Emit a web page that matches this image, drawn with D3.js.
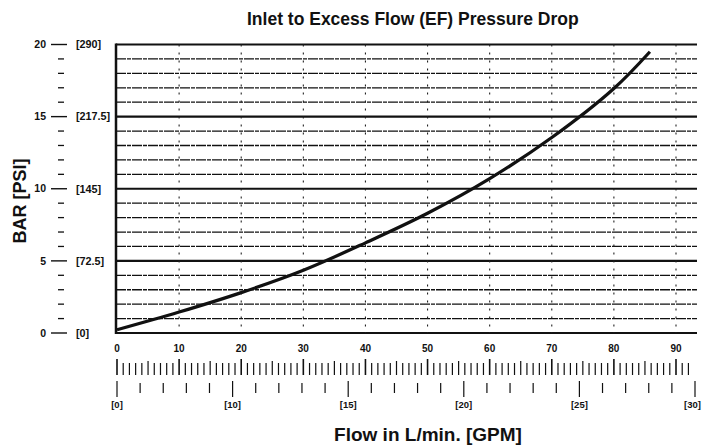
<!DOCTYPE html>
<html><head><meta charset="utf-8">
<script src="https://cdn.jsdelivr.net/npm/d3@7"></script>
<style>body{margin:0;background:#fff}svg{display:block}text{font-family:"Liberation Sans",Arial,sans-serif;font-weight:bold;fill:#111}</style>
</head><body><svg id="c" width="702" height="446"></svg>
<script>
// Data
const flowLmin = [0, 10, 20, 30, 40, 50, 60, 70, 80, 85.8];
const pressureBar = [0.22, 1.45, 2.8, 4.35, 6.25, 8.3, 10.7, 13.55, 16.95, 19.5];
const barMajorTicks = [0, 5, 10, 15, 20];
const psiLabels = ["[0]", "[72.5]", "[145]", "[217.5]", "[290]"];
const lminTicks = [0, 10, 20, 30, 40, 50, 60, 70, 80, 90];
const gpmLabels = ["[0]", "[10]", "[15]", "[20]", "[25]", "[30]"];

const svg = d3.select("#c");
const pLeft = 116, pRight = 697, pTop = 44.5, pBottom = 333;
const x = d3.scaleLinear().domain([0, 90]).range([117, 676]);
const y = d3.scaleLinear().domain([0, 20]).range([pBottom, pTop]);

// horizontal grid lines every 1 bar
const barAll = d3.range(0, 21);
svg.append("g").selectAll("line").data(barAll).join("line")
  .attr("x1", pLeft).attr("x2", pRight)
  .attr("y1", d => y(d)).attr("y2", d => y(d))
  .attr("stroke", "#111")
  .attr("stroke-width", d => d % 5 === 0 ? 2.2 : 1.3)
  .attr("stroke-dasharray", d => d % 5 === 0 ? null : "10,1,4,1");

// vertical dotted grid lines every 10 L/min
svg.append("g").selectAll("line").data(lminTicks.filter(d => d > 0)).join("line")
  .attr("x1", d => x(d)).attr("x2", d => x(d))
  .attr("y1", pTop).attr("y2", pBottom)
  .attr("stroke", "#222").attr("stroke-width", 1.1)
  .attr("stroke-dasharray", "2,6");

// left axis line
svg.append("line").attr("x1", pLeft).attr("x2", pLeft).attr("y1", pTop - 1).attr("y2", pBottom + 1)
  .attr("stroke", "#111").attr("stroke-width", 2.5);

// curve
const line = d3.line().x((d, i) => x(flowLmin[i])).y(d => y(d)).curve(d3.curveCatmullRom.alpha(0.5));
svg.append("path").datum(pressureBar).attr("d", line)
  .attr("fill", "none").attr("stroke", "#111").attr("stroke-width", 3.2);

// Left scale: bar labels, dashes, psi labels
const gy = svg.append("g");
gy.selectAll("line.minor").data(barAll.filter(d => d % 5 !== 0)).join("line")
  .attr("class", "minor")
  .attr("x1", 58).attr("x2", 64).attr("y1", d => y(d)).attr("y2", d => y(d))
  .attr("stroke", "#111").attr("stroke-width", 1.3);
gy.selectAll("line.major").data(barMajorTicks).join("line")
  .attr("class", "major")
  .attr("x1", 51).attr("x2", 67).attr("y1", d => y(d)).attr("y2", d => y(d))
  .attr("stroke", "#111").attr("stroke-width", 1.4);
gy.selectAll("text.bar").data(barMajorTicks).join("text")
  .attr("class", "bar")
  .attr("x", 46).attr("y", d => y(d)).attr("dy", "0.35em")
  .attr("text-anchor", "end").attr("font-size", 10.5).text(d => d);
gy.selectAll("text.psi").data(barMajorTicks).join("text")
  .attr("class", "psi")
  .attr("x", 76).attr("y", d => y(d)).attr("dy", "0.35em")
  .attr("font-size", 10.8).text((d, i) => psiLabels[i]);

// L/min tick labels
svg.append("g").selectAll("text").data(lminTicks).join("text")
  .attr("x", d => x(d)).attr("y", 352)
  .attr("text-anchor", "middle").attr("font-size", 10).text(d => d);

// L/min minor tick row
const lminMinor = d3.range(0, 93);
svg.append("g").selectAll("line").data(lminMinor).join("line")
  .attr("x1", d => x(d)).attr("x2", d => x(d))
  .attr("y1", d => d % 10 === 0 ? 359 : (d % 5 === 0 ? 361 : 363))
  .attr("y2", 375)
  .attr("stroke", "#111").attr("stroke-width", d => d % 10 === 0 ? 1.6 : 1.2);

// GPM tick row (as drawn in the original: 25 equal divisions, labelled every 5)
const gpmIdx = d3.scaleLinear().domain([0, 25]).range([117, 695]);
const gpmTicks = d3.range(0, 26);
svg.append("g").selectAll("line").data(gpmTicks).join("line")
  .attr("x1", d => gpmIdx(d)).attr("x2", d => gpmIdx(d))
  .attr("y1", d => d % 5 === 0 ? 381 : 383)
  .attr("y2", d => d % 5 === 0 ? 397 : 393)
  .attr("stroke", "#111").attr("stroke-width", 1.2);
svg.append("g").selectAll("text").data(gpmLabels).join("text")
  .attr("x", (d, i) => gpmIdx(i * 5)).attr("y", 408)
  .attr("text-anchor", (d, i) => i === 5 ? "end" : "middle")
  .attr("dx", (d, i) => i === 5 ? 6 : 0)
  .attr("font-size", 9.5).text(d => d);

// Titles
svg.append("text").attr("x", 247).attr("y", 25).attr("text-anchor", "start")
  .attr("font-size", 17.5).text("Inlet to Excess Flow (EF) Pressure Drop");
svg.append("text").attr("x", 428).attr("y", 441).attr("text-anchor", "middle")
  .attr("font-size", 19).text("Flow in L/min. [GPM]");
svg.append("text").attr("transform", "translate(26,201) rotate(-90)").attr("text-anchor", "middle")
  .attr("font-size", 18).text("BAR [PSI]");
</script></body></html>
